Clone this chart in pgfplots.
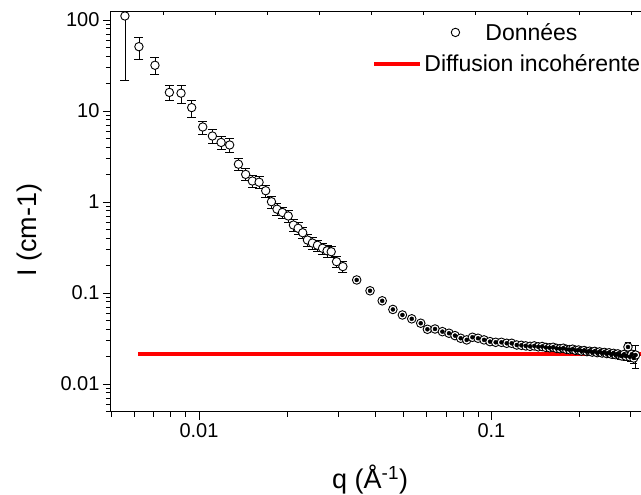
\documentclass[border=0pt]{standalone}
\usepackage{fontspec}
\setmainfont{Liberation Sans}
\usepackage{pgfplots}
\usepackage{pgfplotstable}
\pgfplotsset{compat=1.18}

\pgfplotstableread{
q I e
0.00558 110.7 88.8
0.00623 50.9 14.2
0.00707 31.8 6.8
0.00792 16.0 3.0
0.00868 15.7 3.6
0.00944 10.9 2.3
0.01030 6.67 1.1
0.01111 5.31 0.92
0.01190 4.51 0.75
0.01273 4.23 0.75
0.01364 2.60 0.40
0.01444 2.01 0.30
0.01522 1.70 0.26
0.01605 1.65 0.25
0.01691 1.33 0.20
0.01769 1.007 0.15
0.01848 0.834 0.12
0.01928 0.767 0.11
0.02019 0.702 0.10
0.02103 0.558 0.08
0.02182 0.514 0.075
0.02263 0.459 0.066
0.02348 0.382 0.055
0.02442 0.354 0.050
0.02541 0.334 0.048
0.02645 0.310 0.044
0.02741 0.291 0.042
0.02832 0.284 0.040
0.02953 0.221 0.032
0.03105 0.195 0.028
}\lowq

\pgfplotstableread{
q I e
0.03462 0.139 0.008
0.03845 0.1057 0.006
0.04232 0.0820 0.0045
0.04603 0.0659 0.0037
0.04961 0.0573 0.0032
0.05339 0.0520 0.0029
0.05731 0.0465 0.0026
0.06041 0.0399 0.0022
0.06414 0.0402 0.0022
0.06798 0.0376 0.0021
0.07161 0.0361 0.0020
0.07507 0.0340 0.0019
0.07852 0.0318 0.0018
0.08231 0.0305 0.0017
0.08610 0.0326 0.0018
0.09000 0.0318 0.0018
0.09434 0.0305 0.0017
0.09890 0.0292 0.0016
0.1034 0.0287 0.0016
0.1082 0.0287 0.0016
0.1128 0.0280 0.0016
0.1173 0.0280 0.0016
0.1221 0.0268 0.0015
0.1266 0.0266 0.0015
0.1311 0.0262 0.0015
0.1356 0.0259 0.0015
0.1401 0.0262 0.0015
0.1446 0.0256 0.0015
0.1491 0.0258 0.0015
0.1536 0.0252 0.0015
0.1581 0.0250 0.0015
0.1626 0.0253 0.0015
0.1671 0.0246 0.0015
0.1716 0.0244 0.0015
0.1761 0.0247 0.0015
0.1806 0.0240 0.0015
0.1851 0.0238 0.0015
0.1896 0.0241 0.0015
0.1941 0.0234 0.0015
0.1986 0.0236 0.0015
0.2031 0.0230 0.0015
0.2076 0.0233 0.0015
0.2121 0.0227 0.0015
0.2166 0.0229 0.0015
0.2211 0.0224 0.0015
0.2256 0.0228 0.0015
0.2301 0.0221 0.0015
0.2346 0.0225 0.0015
0.2391 0.0219 0.0015
0.2436 0.0222 0.0015
0.2481 0.0216 0.0015
0.2526 0.0220 0.0015
0.2571 0.0213 0.0015
0.2616 0.0217 0.0016
0.2661 0.0210 0.0016
0.2706 0.0214 0.0016
0.2751 0.0206 0.0017
0.2796 0.0203 0.0017
0.2841 0.0211 0.0018
0.2886 0.0202 0.0019
0.2931 0.0255 0.0030
0.2976 0.0199 0.0020
0.3021 0.0212 0.0022
0.3066 0.0193 0.0024
0.3111 0.0208 0.0060
}\highq

\begin{document}
\begin{tikzpicture}
\begin{axis}[
  name=ax,
  scale only axis,
  width=531pt, height=400pt,
  xmode=log, ymode=log,
  xmin=0.005, xmax=0.3273,
  ymin=0.00492, ymax=122.4,
  axis line style={black, line width=1pt},
  xtick={0.01,0.1}, xticklabels={0.01,0.1},
  ytick={0.01,0.1,1,10,100}, yticklabels={0.01,0.1,1,10,100},
  minor xtick={0.005,0.006,0.007,0.008,0.009,0.02,0.03,0.04,0.05,0.06,0.07,0.08,0.09,0.2,0.3},
  minor ytick={0.005,0.006,0.007,0.008,0.009,0.02,0.03,0.04,0.05,0.06,0.07,0.08,0.09,0.2,0.3,0.4,0.5,0.6,0.7,0.8,0.9,2,3,4,5,6,7,8,9,20,30,40,50,60,70,80,90},
  xtick pos=left, ytick pos=left,
  tick align=outside,
  major tick length=8pt, minor tick length=5pt,
  every tick/.style={black, line width=0.9pt},
  tick label style={font=\fontsize{20}{24}\selectfont},
  xlabel={q (Å\textsuperscript{-1})},
  ylabel={I (cm-1)},
  label style={font=\fontsize{27}{32}\selectfont},
  xlabel style={at={(axis description cs:0.488,-0.17)}, anchor=center},
  ylabel style={at={(axis description cs:-0.153,0.455)}, anchor=center},
  legend style={draw=none, fill=none, at={(axis description cs:0.492,0.9775)}, anchor=north west,
    font=\fontsize{23}{27}\selectfont, inner sep=0pt, row sep=9pt},
  legend cell align=left,
]
\addplot[only marks, mark=none, forget plot,
  error bars/.cd, y dir=both, y explicit,
  error bar style={black, line width=0.8pt},
  error mark options={black, rotate=90, mark size=4.5pt, line width=0.8pt}]
  table[x=q, y=I, y error=e] {\lowq};
\addplot[only marks, mark=*, mark size=4.2pt, forget plot,
  mark options={draw=black, fill=white, line width=0.9pt}]
  table[x=q, y=I] {\lowq};
\addplot[only marks, mark=*, mark size=4.3pt,
  mark options={draw=black, fill=white, line width=0.9pt},
  legend image code/.code={\draw[black, line width=0.9pt, fill=white, overlay] (81pt,0pt) circle (4.2pt); \path (0pt,0pt);}]
  table[x=q, y=I] {\highq};
\addlegendentry{\hspace*{61pt}Données}
\addplot[only marks, mark=none, forget plot,
  error bars/.cd, y dir=both, y explicit,
  error bar style={black, line width=0.45pt},
  error mark options={black, rotate=90, mark size=3.3pt, line width=0.45pt}]
  table[x=q, y=I, y error=e] {\highq};
\addplot[red, line width=4pt, mark=none,
  legend image code/.code={\draw[red, line width=4pt] (0pt,0pt) -- (46pt,0pt);}]
  coordinates {(0.0062,0.0215) (0.3273,0.0215)};
\addlegendentry{Diffusion incohérente}
\end{axis}
\begin{axis}[
  scale only axis,
  width=531pt, height=400pt,
  at={(ax.south west)}, anchor=south west,
  xmin=0, xmax=531, ymin=0, ymax=1,
  axis x line*=top, hide y axis,
  axis line style={black, line width=1pt},
  xtick={52.3,104.3,156.3,208.3,260.3,312.3,364.3,416.3,468.3,520.3},
  xticklabels={},
  tick align=inside,
  major tick length=3pt,
  every tick/.style={black, line width=0.9pt},
]
\end{axis}
\pgfresetboundingbox
\path ([shift={(-111pt,-83pt)}]ax.south west) rectangle ([shift={(530pt,412pt)}]ax.south west);
\end{tikzpicture}
\end{document}
